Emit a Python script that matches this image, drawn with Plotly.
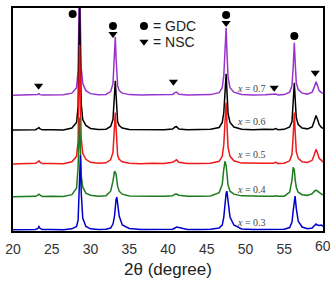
import plotly.graph_objects as go

two_theta = [20.0, 21.0, 22.0, 22.9, 23.2, 23.35, 23.5, 23.8, 25.0, 26.5,
             27.6, 28.2, 28.4, 28.5, 28.6, 28.7, 28.8, 29.0, 29.4, 30.0,
             31.0, 32.0, 32.6, 32.9, 33.1, 33.2, 33.3, 33.4, 33.5, 33.7,
             34.1, 35.0, 36.5, 38.0, 39.5, 40.6, 40.9, 41.1, 41.4, 42.5,
             44.0, 45.5, 46.6, 47.0, 47.2, 47.35, 47.5, 47.6, 47.75, 48.0,
             48.5, 49.5, 51.0, 52.5, 53.6, 53.9, 54.2, 55.0, 55.7, 56.0,
             56.15, 56.3, 56.4, 56.55, 56.8, 57.3, 58.0, 58.6, 58.9, 59.1,
             59.3, 59.5, 59.8, 60.0]

int_x07 = [0.3, 0.6, 0.2, 0.5, 1.2, 2.0, 1.0, 0.5, 0.6, 0.9,
           2.5, 8, 25, 70, 130, 70, 28, 12, 5, 2,
           0.8, 1.2, 4, 12, 40, 59, 38, 18, 10, 5,
           2.5, 1.0, 0.5, 0.8, 0.6, 1.2, 3.0, 3.5, 1.4, 0.7,
           0.9, 1.0, 3, 8, 20, 45, 68, 45, 18, 8,
           3.5, 1.2, 0.6, 0.9, 0.8, 1.5, 0.7, 1.0, 3.5, 10,
           28, 53, 35, 13, 6, 2.5, 1.5, 3.5, 9, 14,
           10, 5, 3, 2]
int_x06 = [0.5, 0.8, 0.4, 0.8, 2, 3, 1.5, 0.6, 0.8, 0.5,
           2.5, 8, 24, 66, 125, 68, 27, 11, 5, 2,
           1.0, 1.3, 4, 11, 34, 50, 36, 17, 9, 5,
           2.5, 1.0, 0.8, 1.2, 0.7, 1.5, 3.5, 3.8, 1.5, 0.8,
           1.0, 1.2, 3, 8, 18, 38, 57, 40, 17, 8,
           3.5, 1.3, 0.8, 1.2, 0.9, 1.8, 0.8, 1.1, 3.5, 9,
           26, 48, 33, 13, 6, 2.5, 1.6, 3.5, 10, 15,
           11, 6, 3, 2]
int_x05 = [0.3, 0.7, 0.5, 1.0, 2.5, 3.5, 2, 0.7, 0.9, 0.6,
           2.5, 8, 23, 64, 120, 65, 26, 11, 5, 2,
           1.0, 1.5, 4.5, 12, 36, 52, 37, 17, 9, 5,
           2.5, 1.0, 0.6, 1.0, 0.8, 2, 4, 4.5, 2, 0.8,
           0.7, 1.0, 3, 8, 20, 42, 62, 42, 17, 8,
           3.5, 1.2, 0.8, 1.0, 1.0, 2.0, 0.8, 1.0, 3.5, 10,
           28, 52, 34, 13, 6, 2.5, 1.8, 4, 10, 15,
           11, 6, 4, 2]
int_x04 = [0.5, 0.7, 0.4, 0.8, 2, 3, 2, 0.7, 0.8, 0.6,
           2.5, 9, 30, 60, 80, 48, 22, 10, 4, 2,
           1.0, 1.5, 6, 16, 26, 25, 23, 17, 11, 6,
           3, 1.2, 0.8, 1.0, 0.8, 1.5, 3, 3.2, 2, 0.9,
           0.8, 1.1, 4.5, 13, 28, 36, 32, 22, 12, 6,
           3, 1.3, 0.8, 1.0, 1.0, 1.5, 0.9, 1.0, 5, 17,
           30, 27, 18, 10, 5, 2.5, 1.8, 3.5, 6, 7,
           6, 4.5, 3, 2.5]
int_x03 = [0.3, 0.5, 0.2, 0.6, 1.5, 3.5, 1.5, 0.4, 0.5, 0.3,
           1.2, 3.5, 10, 30, 62, 75, 38, 12, 3.5, 1.2,
           0.5, 0.8, 2, 6, 14, 26, 31, 33, 28, 14,
           5, 1.5, 0.4, 0.6, 0.4, 0.8, 2, 3, 2.5, 0.6,
           0.5, 0.7, 2, 5, 13, 26, 37, 39, 27, 13,
           5, 1.0, 0.5, 0.7, 0.6, 1.2, 0.6, 0.8, 2.5, 8,
           19, 29, 34, 22, 9, 3, 1.2, 2, 4, 6,
           5, 4.5, 5, 3.5]

series_names = ["x = 0.7", "x = 0.6", "x = 0.5", "x = 0.4", "x = 0.3"]
series_data = [int_x07, int_x06, int_x05, int_x04, int_x03]
offsets = [136, 101, 67, 34, 1]
colors = ["#9933CC", "#000000", "#F01818", "#1E7A1E", "#0000CC"]

gdc_x = [27.7, 32.9, 47.5, 56.3]
gdc_y = [218, 206, 217, 196]
nsc_x = [23.3, 32.9, 40.7, 47.5, 53.7, 59.0]
nsc_y = [146, 198, 150, 209, 144, 159]

label_x = 48.6
label_y = [143, 110, 77, 42, 9]

tick_vals = [20, 25, 30, 35, 40, 45, 50, 55]
last_tick = 60

fig = go.Figure()
for name, data, off, col in zip(series_names, series_data, offsets, colors):
    fig.add_trace(go.Scatter(x=two_theta, y=[v + off for v in data], mode="lines",
                             line=dict(color=col, width=1.5), name=name,
                             showlegend=False, hoverinfo="skip"))

fig.add_trace(go.Scatter(x=gdc_x + [36.9], y=gdc_y + [206], mode="markers",
                         marker=dict(symbol="circle", size=8, color="black"),
                         showlegend=False, cliponaxis=False))
fig.add_trace(go.Scatter(x=nsc_x + [36.9], y=nsc_y + [190], mode="markers",
                         marker=dict(symbol="triangle-down", size=8, color="black"),
                         showlegend=False, cliponaxis=False))

annotations = [
    dict(x=37.8, y=206, text="= GDC", showarrow=False, xanchor="left", yanchor="middle",
         font=dict(family="Liberation Sans, Arial", size=14, color="#222")),
    dict(x=37.8, y=190, text="= NSC", showarrow=False, xanchor="left", yanchor="middle",
         font=dict(family="Liberation Sans, Arial", size=14, color="#222")),
    dict(x=last_tick, y=-0.068, yref="paper", text=str(last_tick), showarrow=False,
         xanchor="center", yanchor="middle",
         font=dict(family="Liberation Sans, Arial", size=14, color="#333")),
]
for name, ly in zip(series_names, label_y):
    annotations.append(dict(x=label_x, y=ly, text="<i>x</i>" + name[1:], showarrow=False,
                            xanchor="left", yanchor="middle",
                            font=dict(family="Liberation Serif, Times New Roman", size=10, color="#444")))

fig.update_layout(
    width=330, height=281,
    margin=dict(l=12, r=5, t=8, b=49),
    paper_bgcolor="white", plot_bgcolor="white",
    annotations=annotations,
    xaxis=dict(range=[20, 60], tickvals=tick_vals,
               showline=True, mirror=True, linecolor="black", linewidth=1.5,
               showgrid=False, zeroline=False,
               ticks="outside", ticklen=4, tickcolor="rgba(0,0,0,0)",
               tickfont=dict(family="Liberation Sans, Arial", size=14, color="#333"),
               title=dict(text="2θ (degree)", standoff=8,
                          font=dict(family="Liberation Sans, Arial", size=17, color="#222"))),
    yaxis=dict(range=[0, 224], showticklabels=False, showline=True, mirror=True,
               linecolor="black", linewidth=1.5, showgrid=False, zeroline=False, ticks=""),
)

fig.write_html("out.html")
